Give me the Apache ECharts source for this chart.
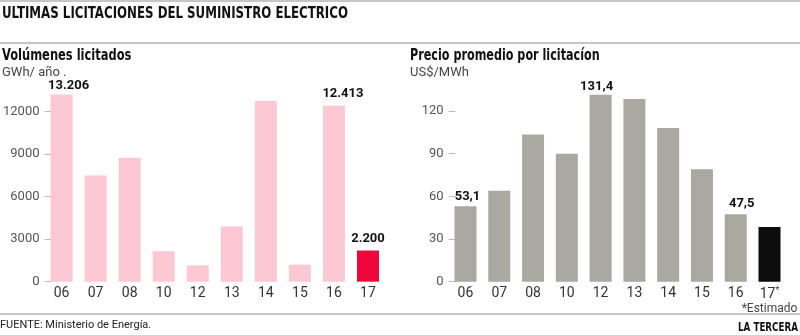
<!DOCTYPE html>
<html>
<head>
<meta charset="utf-8">
<script src="https://cdn.jsdelivr.net/npm/echarts@6/dist/echarts.min.js"></script>
<style>
  html, body { margin: 0; padding: 0; background: #fff; }
  #chart { width: 800px; height: 335px; }
</style>
</head>
<body>
<div id="chart"></div>
<script>
// Tender years (shared by both panels)
const years = ['06', '07', '08', '10', '12', '13', '14', '15', '16', '17'];
// Volumes tendered, GWh/year
const volumes = [13206, 7500, 8750, 2150, 1150, 3900, 12750, 1200, 12413, 2200];
// Average price per tender, US$/MWh (2017 is an estimate)
const prices = [53.1, 64, 103.5, 90, 131.4, 128.5, 108, 79, 47.5, 38.5];
// Axis tick values
const volumeTicks = [0, 3000, 6000, 9000, 12000];
const priceTicks = [0, 30, 60, 90, 120];
// Bars that carry a value label
const volumeLabelled = [0, 8, 9];
const priceLabelled = [0, 4, 8];

const condensed = '"DejaVu Sans Condensed", "DejaVu Sans", sans-serif';
const plain = 'Roboto, "Open Sans", sans-serif';

// Label nudges so the numbers sit clear of neighbouring bars
const volumeLabelStyle = { 0: { offset: [7, 0], distance: 2 }, 8: { offset: [9, 0], distance: 6 }, 9: { offset: [0, 0], distance: 5 } };
const priceLabelStyle = { 0: { offset: [2, 0], distance: 3 }, 4: { offset: [-4, 0], distance: 2 }, 8: { offset: [6, 0], distance: 4 } };

function fmtVolume(v) {
  return String(Math.round(v)).replace(/\B(?=(\d{3})+(?!\d))/g, '.');
}
function fmtPrice(v) {
  return v.toFixed(1).replace('.', ',');
}

const valueLabelFont = { fontFamily: plain, fontWeight: 'bold', fontSize: 13, color: '#111' };

const volumeData = volumes.map((v, i) => {
  const item = {
    value: v,
    itemStyle: { color: i === volumes.length - 1 ? '#f0063a' : '#fcc8d4' }
  };
  if (volumeLabelled.includes(i)) {
    item.label = Object.assign({ show: true, position: 'top', formatter: fmtVolume(v) }, valueLabelFont, volumeLabelStyle[i]);
  }
  return item;
});

const priceData = prices.map((v, i) => {
  const item = {
    value: v,
    itemStyle: { color: i === prices.length - 1 ? '#0c0c0c' : '#a9a9a2' }
  };
  if (priceLabelled.includes(i)) {
    item.label = Object.assign({ show: true, position: 'top', formatter: fmtPrice(v) }, valueLabelFont, priceLabelStyle[i]);
  }
  return item;
});

function yAxisFor(gridIndex, max, ticks) {
  return {
    type: 'value', gridIndex: gridIndex, min: 0, max: max,
    axisLine: { show: false },
    splitLine: { show: false },
    axisTick: { show: true, inside: true, length: 7, customValues: ticks, lineStyle: { color: '#bbb', width: 1 } },
    axisLabel: {
      customValues: ticks, margin: 5, fontFamily: plain, fontSize: 13, color: '#555',
      formatter: (v) => String(v)
    }
  };
}

function xAxisFor(gridIndex, withNote) {
  return {
    type: 'category', gridIndex: gridIndex, data: years,
    axisLine: { show: false },
    axisTick: { show: false },
    axisLabel: {
      interval: 0,
      margin: 5, fontFamily: plain, fontSize: 14, color: '#333',
      formatter: withNote
        ? (v, i) => (i === years.length - 1 ? v + '{sup|*}\n{note|*Estimado}' : v)
        : undefined,
      rich: withNote ? {
        sup: { fontFamily: plain, fontSize: 9, color: '#333', verticalAlign: 'top', padding: [0, 0, 6, 0] },
        note: { fontFamily: plain, fontSize: 12, color: '#444', padding: [1, 0, 0, 0] }
      } : undefined
    }
  };
}

// Condensed heading text: drawn in DejaVu Condensed and squeezed horizontally
function heading(text, x, y, size, squeeze, extra) {
  return Object.assign({
    type: 'text', x: x, y: y, scaleX: squeeze,
    style: { text: text, font: 'bold ' + size + 'px ' + condensed, fill: '#111', verticalAlign: 'middle' }
  }, extra || {});
}

const chart = echarts.init(document.getElementById('chart'), null, { renderer: 'canvas' });

chart.setOption({
  animation: false,
  backgroundColor: '#fff',
  grid: [
    { left: 40, right: 415, top: 90, bottom: 53.3 },
    { left: 448.6, right: 6.6, top: 90, bottom: 53.3 }
  ],
  xAxis: [xAxisFor(0, false), xAxisFor(1, true)],
  yAxis: [yAxisFor(0, 13530, volumeTicks), yAxisFor(1, 134.8, priceTicks)],
  series: [
    { type: 'bar', xAxisIndex: 0, yAxisIndex: 0, data: volumeData, barWidth: 22 },
    { type: 'bar', xAxisIndex: 1, yAxisIndex: 1, data: priceData, barWidth: 22 }
  ],
  graphic: [
    { type: 'line', shape: { x1: 0, y1: 1, x2: 800, y2: 1 }, style: { stroke: '#8c8c8c', lineWidth: 1 } },
    { type: 'line', shape: { x1: 0, y1: 43, x2: 800, y2: 43 }, style: { stroke: '#8c8c8c', lineWidth: 1 } },
    { type: 'line', shape: { x1: 0, y1: 314, x2: 800, y2: 314 }, style: { stroke: '#8c8c8c', lineWidth: 1 } },
    heading('ULTIMAS LICITACIONES DEL SUMINISTRO ELECTRICO', 2, 14, 16, 0.82),
    heading('Volúmenes licitados', 2, 56, 15, 0.85),
    { type: 'text', x: 2, y: 73, style: { text: 'GWh/ año .', font: '13px ' + plain, fill: '#444', verticalAlign: 'middle' } },
    heading('Precio promedio por licitacíon', 410, 56, 15, 0.83),
    { type: 'text', x: 410, y: 73, style: { text: 'US$/MWh', font: '13px ' + plain, fill: '#444', verticalAlign: 'middle' } },
    { type: 'text', x: 0, y: 325, style: { text: 'FUENTE: Ministerio de Energía.', font: '11px ' + plain, fill: '#222', verticalAlign: 'middle' } },
    { type: 'text', x: 798, y: 328, scaleX: 0.81,
      style: { text: 'LA TERCERA', font: 'bold 12px ' + condensed, fill: '#111', align: 'right', verticalAlign: 'middle' } }
  ]
});
</script>
</body>
</html>
